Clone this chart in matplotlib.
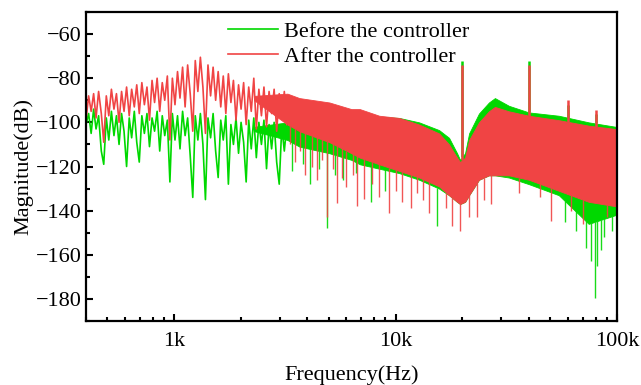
import matplotlib
matplotlib.use("Agg")
import matplotlib.pyplot as plt
import numpy as np
from matplotlib.ticker import FixedLocator, MultipleLocator, NullFormatter

plt.rcParams["font.family"] = ["Liberation Serif", "DejaVu Serif"]
plt.rcParams["font.size"] = 16

GREEN = "#00d800"
RED = "#f04444"

# low-frequency part, individual FFT bins (Hz)
lf_freq = [400, 411, 422, 433, 444, 456, 469, 481, 494, 507, 521, 535, 549, 564,
           579, 594, 610, 627, 643, 661, 678, 696, 715, 734, 754, 774, 795, 816,
           838, 861, 884, 907, 932, 957, 982, 1009, 1036, 1063, 1092, 1121, 1151,
           1182, 1214, 1246, 1280, 1314, 1349, 1385, 1422, 1461, 1500, 1540, 1581,
           1624, 1667, 1712, 1758, 1805, 1853, 1903, 1954, 2006, 2060, 2115, 2172,
           2230, 2290, 2351, 2414, 2479, 2545, 2614, 2684, 2756, 2829, 2905, 2983,
           3063, 3145, 3229]
lf_before = [-101, -96, -105, -94, -103, -97, -113, -119, -98, -108, -95, -106, -97,
             -110, -96, -104, -120, -98, -107, -95, -109, -118, -97, -105, -96, -111,
             -98, -104, -95, -113, -97, -106, -99, -127, -96, -108, -97, -112, -95,
             -106, -98, -115, -134, -97, -108, -96, -110, -135, -98, -107, -96, -113,
             -125, -99, -108, -97, -128, -101, -110, -98, -114, -100, -109, -127, -99,
             -112, -98, -116, -100, -110, -99, -121, -101, -112, -100, -118, -128,
             -102, -113, -101]
lf_after = [-99, -88, -95, -87, -98, -86, -96, -109, -88, -97, -85, -94, -87, -100,
            -86, -95, -84, -97, -85, -93, -83, -96, -82, -92, -84, -99, -81, -91, -80,
            -95, -82, -90, -79, -108, -80, -92, -77, -89, -75, -93, -74, -87, -104,
            -72, -86, -70.5, -84, -105, -74, -88, -75, -90, -77, -93, -79, -96, -78,
            -91, -81, -99, -83, -94, -82, -101, -84, -95, -80, -103, -85, -97, -84,
            -102, -86, -96, -85, -104, -87, -98, -86, -101]

# high-frequency part, envelope of the dense band (Hz, dB)
band_freq = [2300, 3250, 3680, 5030, 6320, 6900, 8440, 10390, 12780, 15720, 17440,
             18960, 19560, 20600, 21480, 23800, 26400, 28100, 32500, 40000, 54600,
             74500, 98600]
before_top = [-102, -100, -100, -100, -99, -98, -97.5, -98, -100, -103.5, -107, -114,
              -117, -114, -105, -96, -91, -89, -92.5, -95.5, -97, -100, -102]
before_bot = [-104, -108, -111, -114, -117, -119, -121, -123, -126, -130, -133, -136,
              -137, -136, -133, -126, -124, -124, -125, -128, -133, -146, -142]
after_top = [-88, -87, -89, -91, -94, -94, -97, -98, -101, -105, -110, -116, -118,
             -116, -108, -100, -95, -93, -95, -97, -99, -101.5, -103]
after_bot = [-90, -101, -104, -109, -114, -116, -119, -122, -125, -129, -133, -136,
             -137, -136, -133, -126, -124, -124, -124, -126, -131, -136, -138]

# harmonic peaks (Hz, dB)
peak_freq = [20000, 40000, 60000, 80000]
before_peak = [-72, -72, -92, -96]
after_peak = [-74, -74, -90, -94.5]

# deep single-bin dips (Hz, dB)
before_dip_freq = [3400, 3800, 4100, 4500, 4920, 5300, 5800, 6600, 7770, 9000,
                   15400, 58100, 65100, 72200, 76100, 79300, 81000, 84400, 87100,
                   94600]
before_dip = [-122, -119, -128, -121, -148, -124, -126, -123, -136, -131, -147,
              -145, -149, -157, -163, -179.5, -165, -158, -152, -149]
after_dip_freq = [3350, 3500, 3700, 3900, 4200, 4400, 4650, 4920, 5200, 5460, 5700,
                  5995, 6400, 6720, 7225, 7800, 8440, 9360, 10000, 10720, 11760,
                  12520, 13300, 14190, 16910, 17990, 19500, 21480, 23310, 25000,
                  26950, 36000, 45000, 50250, 62000, 70000, 90000]
after_dip = [-110, -118, -113, -124, -120, -126, -117, -143, -121, -136.5, -125,
             -129.5, -124, -138, -134.7, -128, -134, -141, -131, -136, -139, -132,
             -135, -141, -139, -147, -149, -143, -143, -135, -137, -132, -134, -144.5,
             -140, -146, -143]


def interp_log(f, xs, ys):
    return np.interp(np.log10(f), np.log10(xs), ys)


fig = plt.figure(figsize=(6.41, 3.85), dpi=100)
ax = fig.add_axes([86 / 641, 1 - 321 / 385, 531 / 641, 309 / 385])
ax.set_xscale("log")

for name, col, lf, top, bot, pk, dfq, dv in [
        ("Before the controller", GREEN, lf_before, before_top, before_bot,
         before_peak, before_dip_freq, before_dip),
        ("After the controller", RED, lf_after, after_top, after_bot,
         after_peak, after_dip_freq, after_dip)]:
    ax.plot(lf_freq, lf, color=col, lw=1.2, label=name)
    ax.fill_between(band_freq, bot, top, color=col, lw=0.6)
    ax.vlines(peak_freq, interp_log(peak_freq, band_freq, top), pk,
              color=col, lw=1.8)
    ax.vlines(dfq, interp_log(dfq, band_freq, bot), dv, color=col, lw=1.0,
              alpha=0.9)

ax.set_xlim(400, 100000)
ax.set_ylim(-190, -50)
ax.xaxis.set_major_locator(FixedLocator([1000, 10000, 100000]))
ax.set_xticklabels(["1k", "10k", "100k"])
ax.xaxis.set_minor_formatter(NullFormatter())
ax.yaxis.set_major_locator(MultipleLocator(20))
ax.yaxis.set_minor_locator(MultipleLocator(10))
ax.tick_params(which="both", direction="in", top=False, right=False, width=1.5)
ax.tick_params(which="major", length=5)
ax.tick_params(which="minor", length=3)
ax.tick_params(axis="x", pad=8)
ax.tick_params(axis="y", pad=3)
for sp in ax.spines.values():
    sp.set_linewidth(1.6)

ax.set_xlabel("Frequency(Hz)", labelpad=10)
ax.set_ylabel("Magnitude(dB)", labelpad=2)
ax.legend(loc="upper left", bbox_to_anchor=(0.23, 1.035), frameon=False,
          handlelength=2.25, handletextpad=0.25, labelspacing=0.2)

fig.savefig("out.png", dpi=100)
